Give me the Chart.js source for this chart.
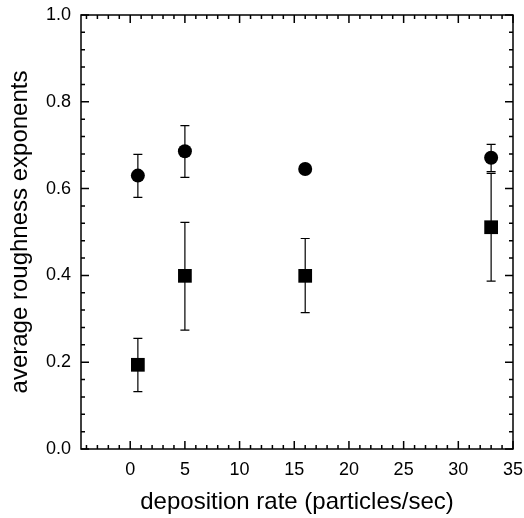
<!DOCTYPE html>
<html>
<head>
<meta charset="utf-8">
<script src="https://cdn.jsdelivr.net/npm/chart.js@4.4.0/dist/chart.umd.min.js"></script>
<style>
  html, body { margin: 0; padding: 0; background: #fff; }
</style>
</head>
<body>
<canvas id="roughnessChart" width="524" height="518"></canvas>
<script>
// deposition rate (particles/sec)
const depositionRates = [0.7, 5, 16, 33];

// circles with their error bar limits
const circleValues = [0.630, 0.686, 0.645, 0.671];
const circleLow    = [0.580, 0.626, 0.636, 0.639];
const circleHigh   = [0.679, 0.745, 0.655, 0.702];

// squares with their error bar limits
const squareValues = [0.194, 0.399, 0.399, 0.511];
const squareLow    = [0.132, 0.274, 0.314, 0.387];
const squareHigh   = [0.255, 0.522, 0.485, 0.635];

// tick labels
const xTickValues = [0, 5, 10, 15, 20, 25, 30, 35];
const yTickValues = [0, 0.2, 0.4, 0.6, 0.8, 1.0];

const fontFamily = '"Liberation Sans", Arial, Helvetica, sans-serif';
Chart.defaults.font.family = fontFamily;
Chart.defaults.color = '#000';

// error bars under the markers, boxed frame with inward ticks on top
const frameAndErrors = {
  id: 'frameAndErrors',
  beforeDatasetsDraw(chart) {
    const { ctx, scales: { x, y } } = chart;
    ctx.save();
    ctx.strokeStyle = '#000';
    ctx.lineWidth = 1.2;
    [[circleLow, circleHigh], [squareLow, squareHigh]].forEach(([lo, hi]) => {
      depositionRates.forEach((r, i) => {
        const px = x.getPixelForValue(r);
        const top = y.getPixelForValue(hi[i]);
        const bot = y.getPixelForValue(lo[i]);
        ctx.beginPath();
        ctx.moveTo(px, top); ctx.lineTo(px, bot);
        ctx.moveTo(px - 4.5, top); ctx.lineTo(px + 4.5, top);
        ctx.moveTo(px - 4.5, bot); ctx.lineTo(px + 4.5, bot);
        ctx.stroke();
      });
    });
    ctx.restore();
  },
  afterDraw(chart) {
    const { ctx, chartArea: a, scales: { x, y } } = chart;
    ctx.save();
    ctx.strokeStyle = '#000';
    ctx.lineWidth = 1.5;
    ctx.strokeRect(a.left, a.top, a.right - a.left, a.bottom - a.top);
    ctx.beginPath();
    // x ticks every 1, major every 5
    for (let v = -4; v <= 35; v++) {
      const px = x.getPixelForValue(v);
      const len = v % 5 === 0 ? 8 : 4;
      ctx.moveTo(px, a.bottom); ctx.lineTo(px, a.bottom - len);
      ctx.moveTo(px, a.top); ctx.lineTo(px, a.top + len);
    }
    // y ticks every 0.04, major every 0.2
    for (let i = 0; i <= 25; i++) {
      const py = y.getPixelForValue(i * 0.04);
      const len = i % 5 === 0 ? 8 : 4;
      ctx.moveTo(a.left, py); ctx.lineTo(a.left + len, py);
      ctx.moveTo(a.right, py); ctx.lineTo(a.right - len, py);
    }
    ctx.stroke();
    ctx.restore();
  }
};

const ctx = document.getElementById('roughnessChart').getContext('2d');

new Chart(ctx, {
  type: 'scatter',
  data: {
    datasets: [
      {
        label: 'circles',
        data: depositionRates.map((r, i) => ({ x: r, y: circleValues[i] })),
        pointStyle: 'circle',
        pointRadius: 7,
        backgroundColor: '#000',
        borderColor: '#000',
        borderWidth: 0
      },
      {
        label: 'squares',
        data: depositionRates.map((r, i) => ({ x: r, y: squareValues[i] })),
        pointStyle: 'rect',
        pointRadius: 9.7,
        backgroundColor: '#000',
        borderColor: '#000',
        borderWidth: 0
      }
    ]
  },
  options: {
    responsive: false,
    animation: false,
    layout: { padding: { top: 15, right: 11, left: 0, bottom: 0 } },
    plugins: {
      legend: { display: false },
      tooltip: { enabled: false }
    },
    scales: {
      x: {
        type: 'linear',
        min: -4.5,
        max: 35,
        grid: { display: false, drawTicks: false },
        border: { display: false },
        afterBuildTicks: s => { s.ticks = xTickValues.map(v => ({ value: v })); },
        afterFit: s => { s.height = 69; s.paddingLeft = 0; s.paddingRight = 0; },
        ticks: { font: { size: 18 }, padding: 10, maxRotation: 0, autoSkip: false },
        title: {
          display: true,
          text: 'deposition rate (particles/sec)',
          font: { size: 24 },
          padding: { top: 0, bottom: 1 }
        }
      },
      y: {
        type: 'linear',
        min: 0,
        max: 1,
        grid: { display: false, drawTicks: false },
        border: { display: false },
        afterBuildTicks: s => { s.ticks = yTickValues.map(v => ({ value: v })); },
        afterFit: s => { s.width = 81; s.paddingTop = 0; s.paddingBottom = 0; },
        ticks: { font: { size: 18 }, padding: 10, callback: v => v.toFixed(1) },
        title: {
          display: true,
          text: 'average roughness exponents',
          font: { size: 24 },
          padding: { top: 6, bottom: 0 }
        }
      }
    }
  },
  plugins: [frameAndErrors]
});
</script>
</body>
</html>
